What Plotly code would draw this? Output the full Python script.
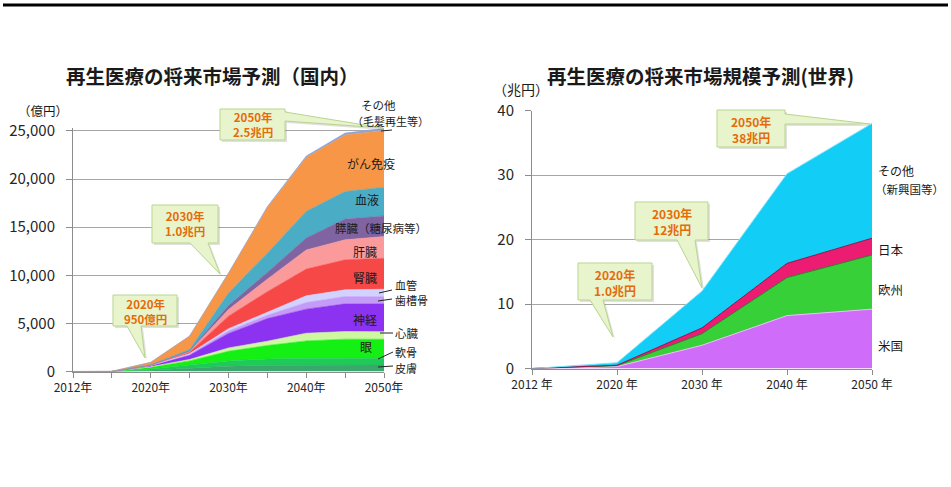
import plotly.graph_objects as go

W, H = 951, 487
def px(x):
    return x / W
def py(y):
    return 1 - y / H

# ---------------- data: domestic (億円) ----------------
years_jp = ["2012年", "2015年", "2020年", "2025年", "2030年", "2035年", "2040年", "2045年", "2050年"]
jp_ticktext = ["2012年", "", "2020年", "", "2030年", "", "2040年", "", "2050年"]

skin      = [0, 0, 120, 300, 550, 650, 680, 680, 680]
cartilage = [0, 0, 150, 350, 550, 650, 700, 700, 690]
eye       = [0, 0, 180, 450, 1000, 1400, 1800, 1980, 1980]
heart     = [0, 0, 50, 150, 350, 450, 800, 790, 790]
nerve     = [0, 0, 100, 450, 1500, 2350, 2500, 2880, 2880]
alveolar  = [0, 0, 20, 80, 250, 350, 690, 760, 760]
vessel    = [0, 0, 20, 80, 250, 350, 700, 700, 770]
kidney    = [0, 0, 20, 150, 1300, 2100, 2780, 3120, 3220]
liver     = [0, 0, 10, 80, 700, 1300, 1980, 2080, 2250]
pancreas  = [0, 0, 10, 50, 400, 700, 1250, 2150, 2150]
blood     = [0, 0, 20, 150, 1300, 2000, 2770, 2870, 2990]
cancer    = [0, 20, 250, 1390, 2050, 4740, 5600, 5870, 5880]
other_jp  = [0, 0, 0, 10, 40, 100, 150, 200, 250]

jp_series = [
    ("皮膚", skin, "#3AA86C"),
    ("軟骨", cartilage, "#1ECB58"),
    ("眼", eye, "#14F014"),
    ("心臓", heart, "#CDF7A0"),
    ("神経", nerve, "#8C33F2"),
    ("歯槽骨", alveolar, "#C49CF7"),
    ("血管", vessel, "#D2D2FF"),
    ("腎臓", kidney, "#F74848"),
    ("肝臓", liver, "#FB9A9A"),
    ("膵臓", pancreas, "#8064A2"),
    ("血液", blood, "#4BACC6"),
    ("がん免疫", cancer, "#F79646"),
    ("その他", other_jp, "#8EA4D8"),
]

# ---------------- data: world (兆円) ----------------
years_w = ["2012 年", "2020 年", "2030 年", "2040 年", "2050 年"]
us       = [0, 0.3, 3.6, 8.2, 9.2]
eu       = [0, 0.15, 1.8, 5.9, 8.4]
japan    = [0, 0.05, 0.9, 2.2, 2.6]
others_w = [0, 0.4, 5.7, 13.9, 17.8]

w_series = [
    ("米国", us, "#D06CFA", "#F2B8FF"),
    ("欧州", eu, "#38D038", "#2B7F2B"),
    ("日本", japan, "#EC1C72", "#9A1048"),
    ("その他", others_w, "#12CEF6", "#7FE4FA"),
]

FONT = "Noto Sans CJK JP"
fig = go.Figure()

for name, vals, col in jp_series:
    fig.add_trace(go.Scatter(
        x=years_jp, y=vals, name=name, mode="lines", stackgroup="jp",
        line=dict(width=0.6, color=col), fillcolor=col,
        xaxis="x", yaxis="y", showlegend=False, hoverinfo="skip"))

for name, vals, col, lc in w_series:
    fig.add_trace(go.Scatter(
        x=years_w, y=vals, name=name, mode="lines", stackgroup="w",
        line=dict(width=1, color=lc), fillcolor=col,
        xaxis="x2", yaxis="y2", showlegend=False, hoverinfo="skip"))

axis_col = "#8C8C8C"
grid_col = "#A6A6A6"
tick_font = dict(family=FONT, size=15, color="#262626")
xt_font = dict(family=FONT, size=12, color="#262626")

fig.update_layout(
    width=W, height=H, margin=dict(l=0, r=0, t=0, b=0, pad=0, autoexpand=False),
    paper_bgcolor="white", plot_bgcolor="white",
    font=dict(family=FONT),
    xaxis=dict(domain=[px(73), px(384)], type="category", range=[0, 8],
               tickvals=years_jp, ticktext=jp_ticktext, ticks="outside",
               ticklen=5, tickcolor=axis_col, showline=True, linecolor=axis_col,
               showgrid=False, tickfont=xt_font, anchor="y", automargin=False),
    yaxis=dict(domain=[py(371.5), py(128.1)], range=[0, 25300],
               tickvals=[0, 5000, 10000, 15000, 20000, 25000], tickformat=",",
               ticks="outside", ticklen=6, tickcolor=axis_col, showline=True,
               linecolor=axis_col, showgrid=True, gridcolor=grid_col, gridwidth=1,
               zeroline=False, tickfont=tick_font, ticklabelstandoff=8, anchor="x",
               automargin=False),
    xaxis2=dict(domain=[px(532), px(872)], type="category", range=[0, 4],
                ticks="outside", ticklen=5, tickcolor=axis_col, showline=True,
                linecolor=axis_col, showgrid=False, tickfont=xt_font, anchor="y2",
                automargin=False),
    yaxis2=dict(domain=[py(368.5), py(110.5)], range=[0, 40], dtick=10,
                ticks="outside", ticklen=6, tickcolor=axis_col, showline=True,
                linecolor=axis_col, showgrid=True, gridcolor=grid_col, gridwidth=1,
                zeroline=False, tickfont=tick_font, ticklabelstandoff=8, anchor="x2",
                automargin=False),
)

shapes = []
# top black rule
shapes.append(dict(type="line", xref="paper", yref="paper",
                   x0=px(3), x1=px(948), y0=py(5), y1=py(5),
                   line=dict(color="black", width=3)))

def path(points):
    return "M " + " L ".join(f"{px(x):.5f},{py(y):.5f}" for x, y in points) + " Z"

callouts = [
    [(220, 109), (285, 109), (285, 112), (383, 128), (285, 121), (285, 140), (220, 140)],
    [(152, 205), (218, 205), (218, 243), (208, 243), (220, 274), (190, 243), (152, 243)],
    [(113, 295), (177, 295), (177, 326), (141, 326), (145, 358), (127, 326), (113, 326)],
    [(717, 110), (785, 110), (785, 114), (870, 124), (785, 124), (785, 147), (717, 147)],
    [(635, 202), (708, 202), (708, 240), (695, 240), (702, 288), (677, 240), (635, 240)],
    [(578, 263), (652, 263), (652, 300), (603, 300), (613, 337), (590, 300), (578, 300)],
]
for pts in callouts:
    sh = [(x + 2, y + 2) for x, y in pts]
    shapes.append(dict(type="path", xref="paper", yref="paper", path=path(sh),
                       fillcolor="rgba(0,0,0,0.12)", line=dict(width=0)))
    shapes.append(dict(type="path", xref="paper", yref="paper", path=path(pts),
                       fillcolor="#E8F4CC", line=dict(color="#B9D58E", width=1)))

# leader lines (domestic labels)
leaders = [((381, 131), (392, 130)), ((379, 293), (392, 290)), ((378, 301), (392, 299)),
           ((380, 333), (393, 333)), ((378, 359), (393, 352)), ((378, 367), (393, 366))]
for (x0, y0), (x1, y1) in leaders:
    shapes.append(dict(type="line", xref="paper", yref="paper",
                       x0=px(x0), y0=py(y0), x1=px(x1), y1=py(y1),
                       line=dict(color="#222222", width=1)))

fig.update_layout(shapes=shapes)

ann = []
def text(x, y, t, size=12, color="#1a1a1a", xanchor="center", bold=False):
    ann.append(dict(xref="paper", yref="paper", x=px(x), y=py(y), text=(f"<b>{t}</b>" if bold else t),
                    showarrow=False, xanchor=xanchor, yanchor="middle", borderpad=0,
                    font=dict(family=FONT, size=size, color=color)))

# titles
text(212.5, 75, "再生医療の将来市場予測（国内）", size=19.5, bold=True)
text(700, 75, "再生医療の将来市場規模予測(世界)", size=19.5, bold=True)
# units
text(43, 110.5, "（億円）", size=12.5)
text(521, 88.5, "（兆円）", size=14)

# callout texts
orange = "#E46C0A"
text(252.5, 125, "2050年<br>2.5兆円", size=11.5, color=orange, bold=True)
text(185, 224, "2030年<br>1.0兆円", size=11.5, color=orange, bold=True)
text(145, 311, "2020年<br>950億円", size=11.5, color=orange, bold=True)
text(751, 129, "2050年<br>38兆円", size=12, color=orange, bold=True)
text(671.5, 221, "2030年<br>12兆円", size=12, color=orange, bold=True)
text(615, 282, "2020年<br>1.0兆円", size=12, color=orange, bold=True)

# domestic series labels
text(378, 105, "その他", size=11.5)
text(390, 121, "（毛髪再生等）", size=11)
text(371, 163, "がん免疫", size=12)
text(367, 199, "血液", size=12)
text(381, 228, "膵臓（糖尿病等）", size=11.5)
text(365, 251, "肝臓", size=12)
text(365, 277, "腎臓", size=12)
text(365, 319, "神経", size=12)
text(366, 346, "眼", size=12)
text(394, 284.5, "血管", size=11, xanchor="left")
text(394, 300, "歯槽骨", size=11, xanchor="left")
text(394, 333, "心臓", size=11.5, xanchor="left")
text(394, 351.5, "軟骨", size=11, xanchor="left")
text(394, 367.5, "皮膚", size=11, xanchor="left")

# world series labels
text(877, 171, "その他", size=12, xanchor="left")
text(874, 189, "（新興国等）", size=11.5, xanchor="left")
text(877, 250, "日本", size=12.5, xanchor="left")
text(877, 289, "欧州", size=12.5, xanchor="left")
text(877, 345, "米国", size=12.5, xanchor="left")

fig.update_layout(annotations=ann)
fig.write_html("out.html")
